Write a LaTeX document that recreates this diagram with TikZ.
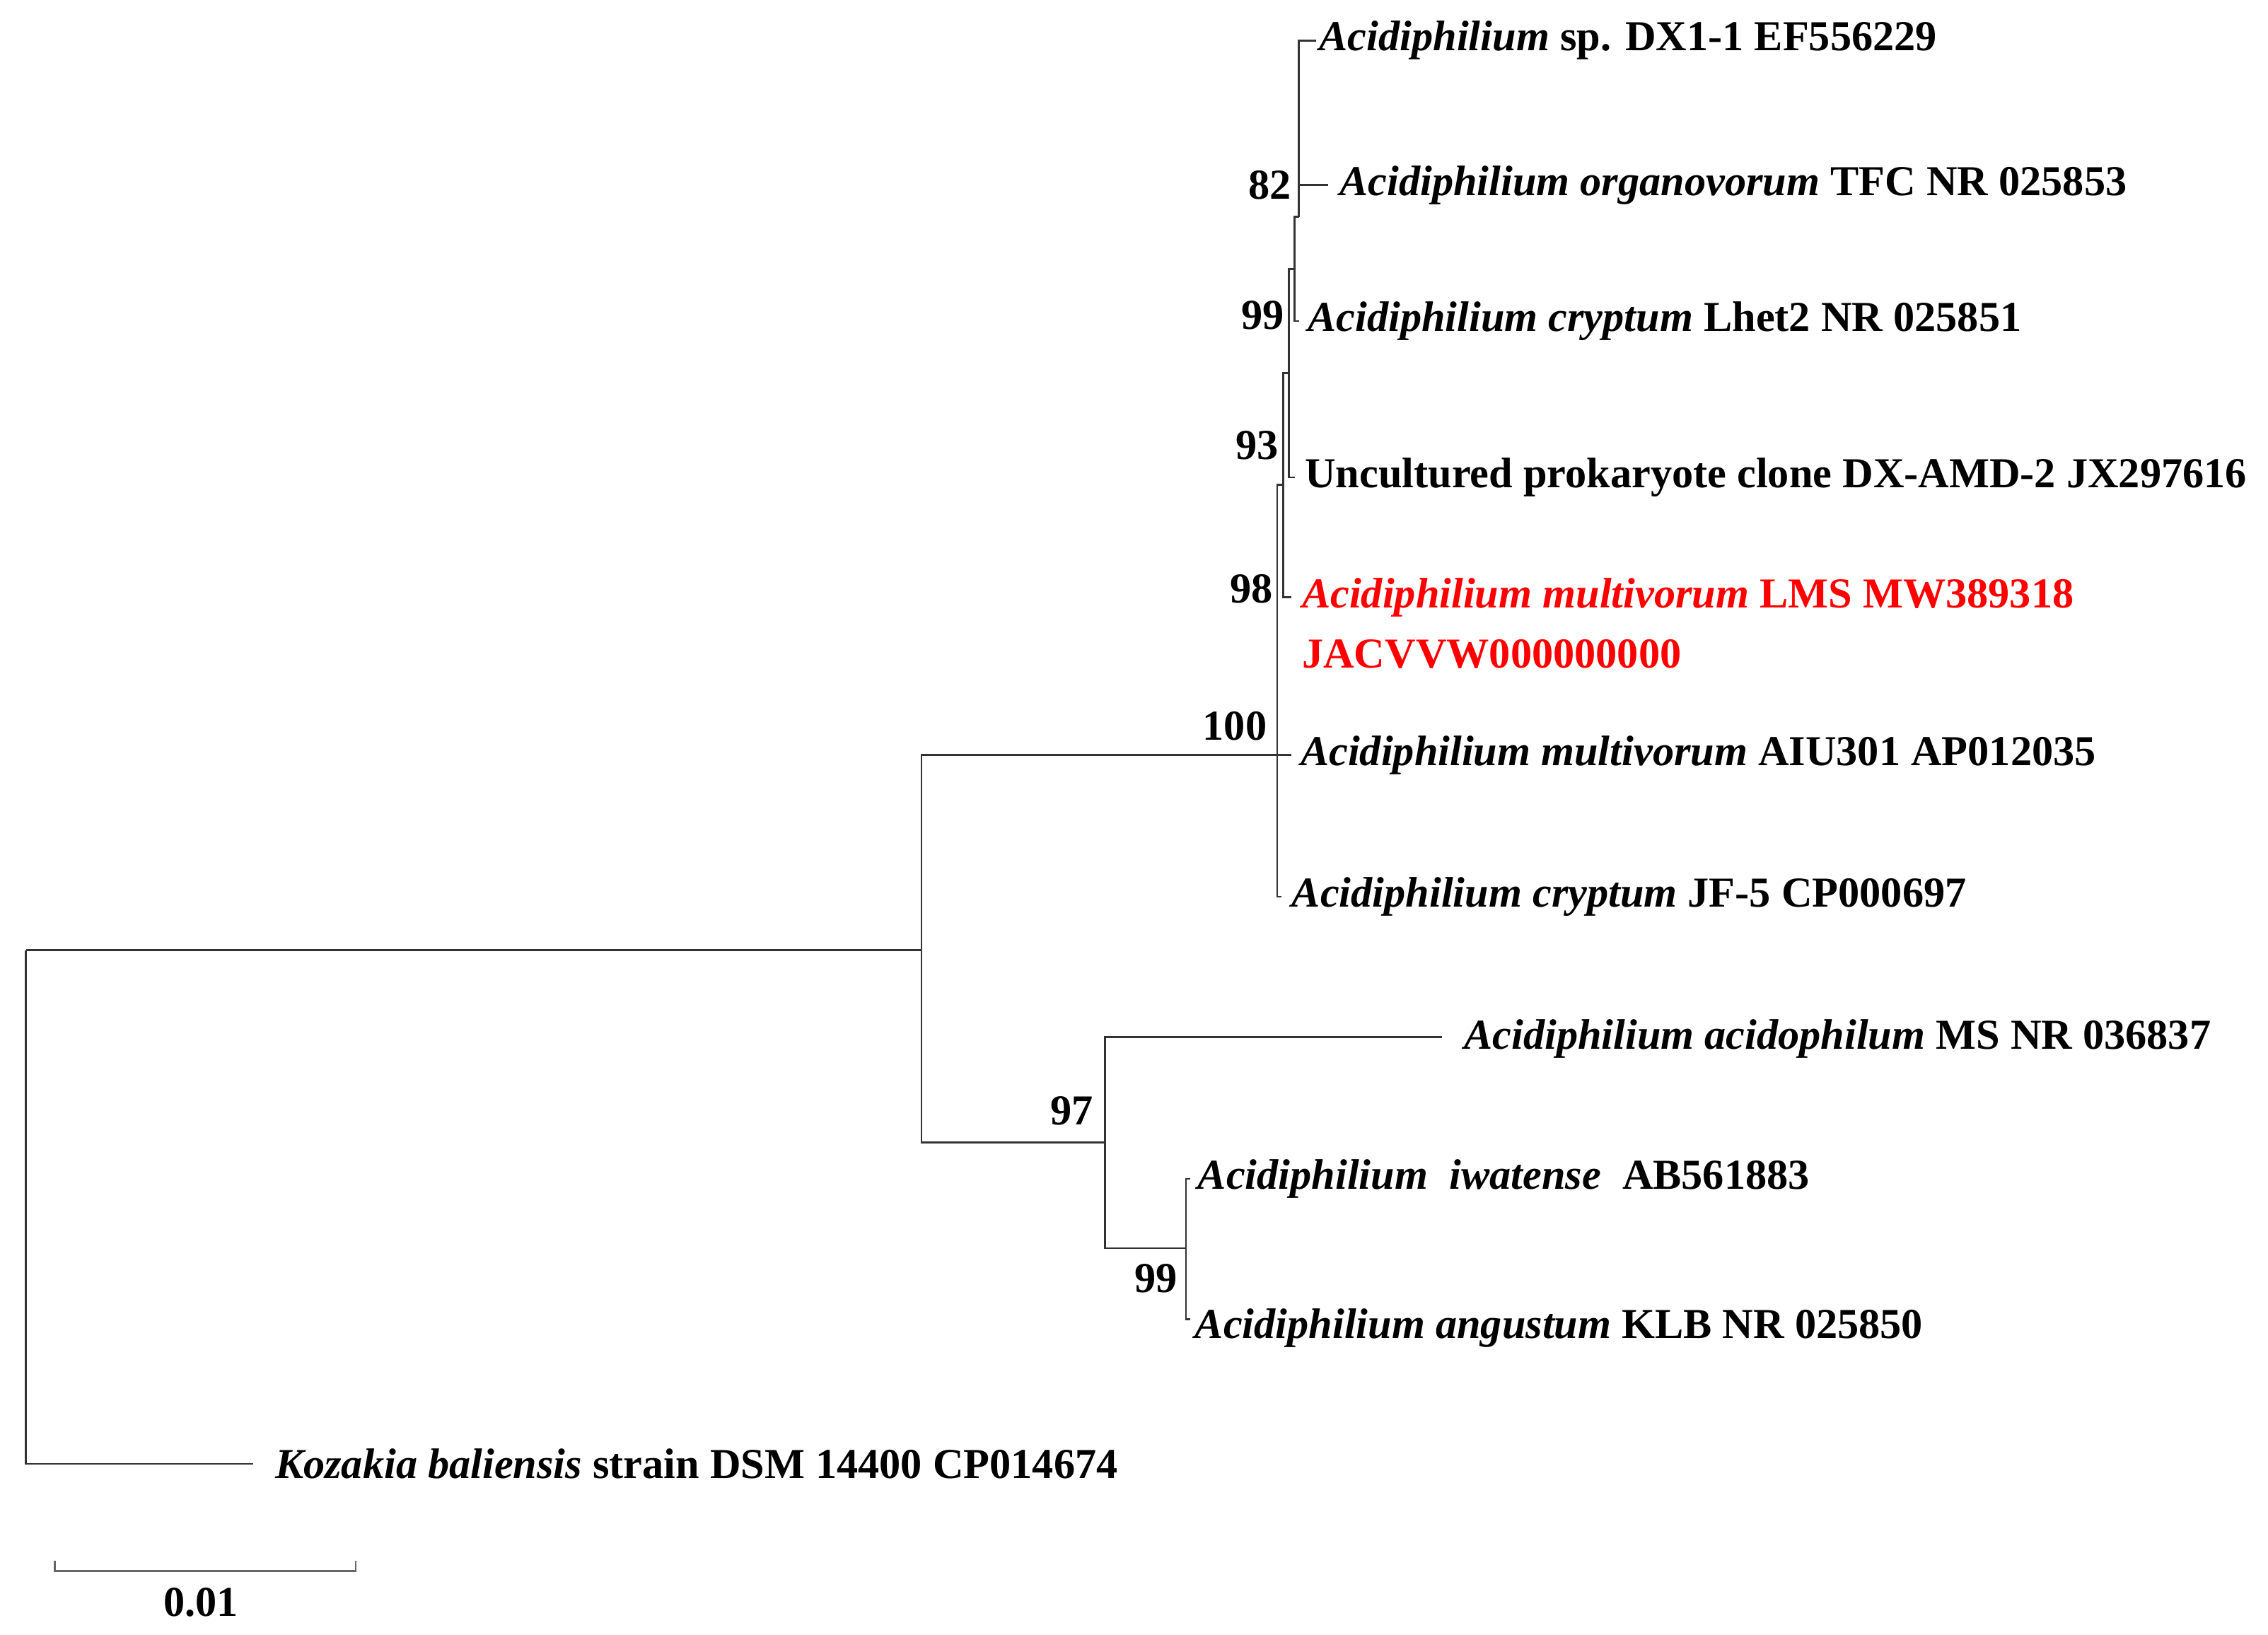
\documentclass[tikz,border=0pt]{standalone}
\usepackage{fontspec}
\setmainfont{Liberation Serif}
\begin{document}
\begin{tikzpicture}[x=1pt,y=-1pt,
  br/.style={line width=1.3pt,draw=black!80},
  leaf/.style={anchor=west,inner sep=0pt,font=\fontsize{29.5}{32}\selectfont\bfseries},
  bs/.style={anchor=east,inner sep=0pt,font=\fontsize{29.5}{32}\selectfont\bfseries}]
\useasboundingbox (0,0) rectangle (1568,1130);
% internal nodes
\coordinate (root) at (18,657);
\coordinate (A) at (637,657);
\coordinate (N100) at (883,522);
\coordinate (N98) at (887,335);
\coordinate (N93) at (891,258);
\coordinate (N99) at (895,186);
\coordinate (N82) at (898,150);
\coordinate (N97) at (764,790);
\coordinate (N99b) at (820,863);
% leaf tips
\coordinate (L1) at (910,28);
\coordinate (L2) at (918,128);
\coordinate (L3) at (898,222);
\coordinate (L4) at (895,330);
\coordinate (L5) at (893,413);
\coordinate (L6) at (893,522);
\coordinate (L7) at (886,620);
\coordinate (L8) at (997,717);
\coordinate (L9) at (823,815);
\coordinate (L10) at (823,912);
\coordinate (L11) at (175,1012);
% branches
\draw[br] (root) |- (L11);
\draw[br] (root) -- (A);
\draw[br] (A) |- (N100);
\draw[br] (A) |- (N97);
\draw[br] (N100) |- (N98);
\draw[br] (N100) -- (L6);
\draw[br] (N100) |- (L7);
\draw[br] (N98) |- (N93);
\draw[br] (N98) |- (L5);
\draw[br] (N93) |- (N99);
\draw[br] (N93) |- (L4);
\draw[br] (N99) |- (N82);
\draw[br] (N99) |- (L3);
\draw[br] (N82) |- (L1);
\draw[br] (N82) |- (L2);
\draw[br] (N97) |- (L8);
\draw[br] (N97) |- (N99b);
\draw[br] (N99b) |- (L9);
\draw[br] (N99b) |- (L10);
% leaf labels
\node[leaf] (t1) at (912,28) {\textit{Acidiphilium} sp. DX1-1 EF556229};
\node[leaf] (t2) at (926,128) {\textit{Acidiphilium organovorum} TFC NR 025853};
\node[leaf] (t3) at (904,222) {\textit{Acidiphilium cryptum} Lhet2 NR 025851};
\node[leaf] (t4) at (902,330) {Uncultured prokaryote clone DX-AMD-2 JX297616};
\node[leaf,text=red] (t5) at (900,413) {\textit{Acidiphilium multivorum} LMS MW389318};
\node[leaf,text=red] (t5b) at (900,452) {JACVVW000000000};
\node[leaf] (t6) at (899,522) {\textit{Acidiphilium multivorum} AIU301 AP012035};
\node[leaf] (t7) at (893,620) {\textit{Acidiphilium cryptum} JF-5 CP000697};
\node[leaf] (t8) at (1012,718) {\textit{Acidiphilium acidophilum} MS NR 036837};
\node[leaf] (t9) at (828,815) {\textit{Acidiphilium\ \ iwatense}\ \ AB561883};
\node[leaf] (t10) at (826,918) {\textit{Acidiphilium angustum} KLB NR 025850};
\node[leaf] (t11) at (190,1012) {\textit{Kozakia baliensis} strain DSM 14400 CP014674};
% bootstrap
\node[bs] (b82) at (893,128) {82};
\node[bs] (b99) at (888,218) {99};
\node[bs] (b93) at (884,308) {93};
\node[bs] (b98) at (880,407) {98};
\node[bs] (b100) at (876,502) {100};
\node[bs] (b97) at (756,768) {97};
\node[bs] (b99b) at (814,884) {99};
% scale bar
\coordinate (s1) at (38,1086);
\coordinate (s2) at (246,1086);
\draw[br,draw=black!60] ([yshift=7]s1) -- (s1) -- (s2) -- ([yshift=7]s2);
\node[inner sep=0pt,font=\fontsize{29.5}{32}\selectfont\bfseries] (sl) at (139,1108) {0.01};
\end{tikzpicture}
\end{document}
